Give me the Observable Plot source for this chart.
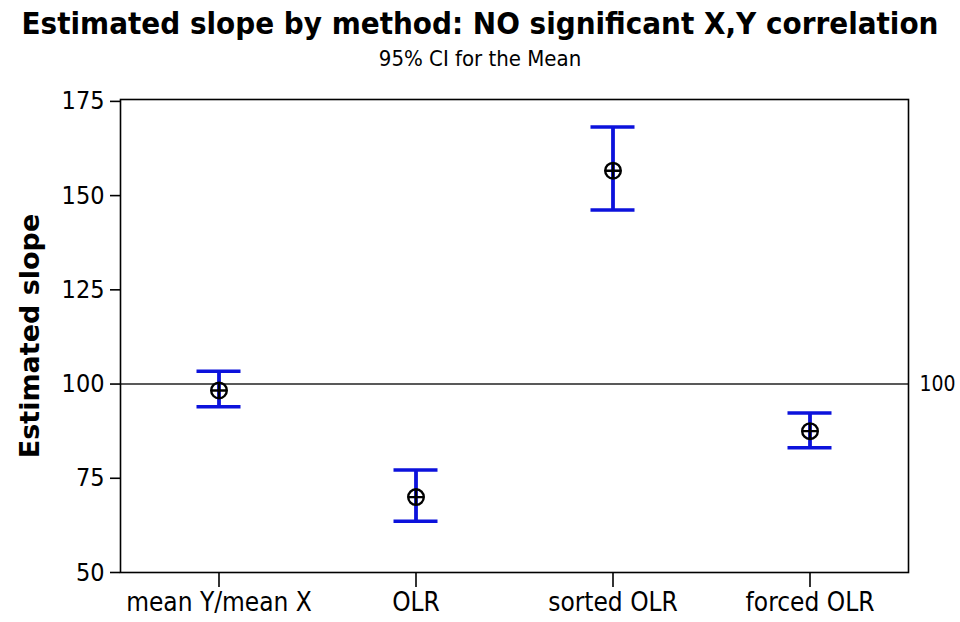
<!DOCTYPE html>
<html>
<head>
<meta charset="utf-8">
<script src="https://cdn.jsdelivr.net/npm/d3@7"></script>
<script src="https://cdn.jsdelivr.net/npm/@observablehq/plot@0.6"></script>
<style>
  html, body { margin: 0; padding: 0; background: #fff; }
  #wrap { width: 960px; height: 622px; overflow: hidden; font-family: "DejaVu Sans Condensed", "DejaVu Sans", sans-serif; }
  #title { height: 46px; line-height: 46px; text-align: center; font-weight: bold; font-size: 31px; color: #000; white-space: nowrap; }
  #subtitle { height: 26px; line-height: 26px; text-align: center; font-size: 22px; color: #000; white-space: nowrap; }
  #chart svg { display: block; }
</style>
</head>
<body>
<div id="wrap">
  <div id="title">Estimated slope by method: NO significant X,Y correlation</div>
  <div id="subtitle">95% CI for the Mean</div>
  <div id="chart"></div>
</div>
<script>
const methods = ["mean Y/mean X", "OLR", "sorted OLR", "forced OLR"];
const means = [98.3, 70.0, 156.6, 87.5];
const lower = [94.0, 63.6, 146.2, 83.1];
const upper = [103.4, 77.2, 168.2, 92.3];
const yTicks = [50, 75, 100, 125, 150, 175];
const refValue = [100];
const yLabel = "Estimated slope";

const data = methods.map((m, i) => ({method: m, mean: means[i], lo: lower[i], hi: upper[i]}));

const circlePlus = {
  draw(context, size) {
    const r = Math.sqrt(size / Math.PI);
    context.moveTo(r, 0);
    context.arc(0, 0, r, 0, 2 * Math.PI);
    context.moveTo(-r, 0);
    context.lineTo(r, 0);
    context.moveTo(0, -r);
    context.lineTo(0, r);
  }
};

const blue = "#0c12dc";
const font = "'DejaVu Sans Condensed', 'DejaVu Sans', sans-serif";

const chart = Plot.plot({
  width: 960,
  height: 550,
  marginTop: 27,
  marginBottom: 50,
  marginLeft: 120,
  marginRight: 52,
  style: {fontFamily: font, fontSize: "25px", color: "#000", background: "#fff"},
  x: {domain: methods, padding: 0, label: null},
  y: {domain: [50, 175.5], label: null},
  marks: [
    Plot.ruleY(refValue, {stroke: "#222", strokeWidth: 1.5}),
    Plot.text(refValue, {y: d => d, text: d => String(d), frameAnchor: "right", dx: 11, textAnchor: "start", fontSize: 21, fill: "#000"}),
    Plot.ruleX(data, {x: "method", y1: "lo", y2: "hi", stroke: blue, strokeWidth: 3.8}),
    Plot.tickY(data, {x: "method", y: "lo", stroke: blue, strokeWidth: 3.5, insetLeft: 76.5, insetRight: 76.5}),
    Plot.tickY(data, {x: "method", y: "hi", stroke: blue, strokeWidth: 3.5, insetLeft: 76.5, insetRight: 76.5}),
    Plot.dot(data, {x: "method", y: "mean", symbol: circlePlus, r: 7.8, stroke: "#000", strokeWidth: 2.4, fill: "none"}),
    Plot.frame({stroke: "#000", strokeWidth: 1.6}),
    Plot.axisY(yTicks, {tickSize: 10, tickPadding: 6, fontSize: 25, stroke: "#000", strokeWidth: 1.6, label: null}),
    Plot.axisX({tickSize: 15, tickPadding: 5, fontSize: 26, stroke: "#000", strokeWidth: 1.6, label: null}),
    Plot.text([yLabel], {frameAnchor: "left", textAnchor: "middle", lineAnchor: "middle", rotate: -90, dx: -90, fontFamily: "'DejaVu Sans', sans-serif", fontSize: 27, fontWeight: "bold", fill: "#000"})
  ]
});
document.getElementById("chart").appendChild(chart);
</script>
</body>
</html>
